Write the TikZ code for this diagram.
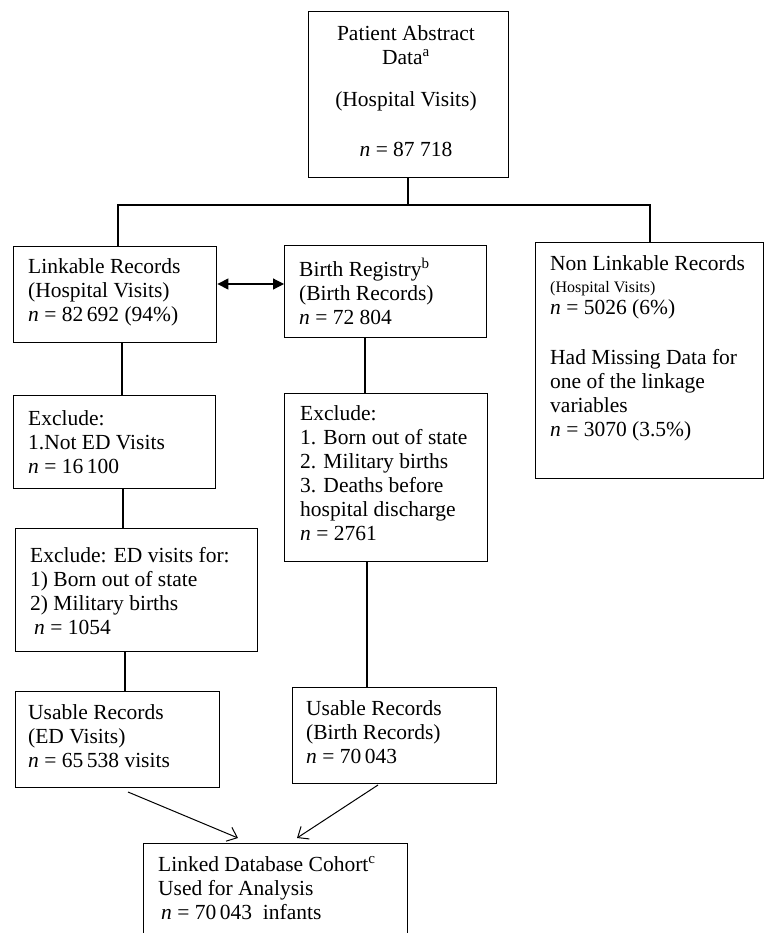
\documentclass[tikz,border=0pt]{standalone}
\usepackage{fontspec}
\setmainfont{Liberation Serif}
\usetikzlibrary{arrows.meta,calc}
\newcommand\fsN{\fontsize{21.5}{24}\selectfont}
\newcommand\fsS{\fontsize{16}{19}\selectfont}
\begin{document}
\begin{tikzpicture}[x=1pt,y=1pt,
  frame/.style={draw, line width=1.4pt, anchor=north west, inner sep=0pt},
  txt/.style={anchor=north west, inner sep=0pt, align=left, font=\fsN},
  conn/.style={line width=1.2pt},
  dbl/.style={conn, {Triangle[length=11pt,width=11pt]}-{Triangle[length=11pt,width=11pt]}},
  tip/.style={line width=1pt, -{Straight Barb[length=9pt,width=15pt]}}
]
\useasboundingbox (0,0) rectangle (770,-933);

% boxes
\node[frame, minimum width=200, minimum height=166] (top) at (308,-11) {};
\node[anchor=north, inner sep=0pt, align=center, font=\fsN] (topT) at (406,-25)
  {Patient Abstract\\ Data\textsuperscript{a}\\[18pt] (Hospital Visits)\\[26pt] \textit{n} = 87 718};

\node[frame, minimum width=203, minimum height=96] (link) at (13,-246) {};
\node[txt] (linkT) at (28,-258) {Linkable Records\\(Hospital Visits)\\\textit{n} = 82\,692 (94\%)};

\node[frame, minimum width=202, minimum height=92] (birth) at (284,-245) {};
\node[txt] (birthT) at (299,-258) {Birth Registry\textsuperscript{b}\\(Birth Records)\\\textit{n} = 72 804};

\node[frame, minimum width=228, minimum height=236] (nonlink) at (535,-242) {};
\node[txt] (nonlinkT) at (550,-255) {Non Linkable Records\\[-2pt]{\fsS (Hospital Visits)}\\[-2pt]\textit{n} = 5026 (6\%)\\[26pt]Had Missing Data for\\one of the linkage\\variables\\\textit{n} = 3070 (3.5\%)};

\node[frame, minimum width=202, minimum height=93] (ex1) at (13,-395) {};
\node[txt] (ex1T) at (28,-410) {Exclude:\\1.Not ED Visits\\\textit{n} = 16\,100};

\node[frame, minimum width=242, minimum height=123] (ex2) at (15,-528) {};
\node[txt] (ex2T) at (30,-547) {Exclude: ED visits for:\\1) Born out of state\\2) Military births\\\hspace{4pt}\textit{n} = 1054};

\node[frame, minimum width=203, minimum height=168] (exm) at (284,-393) {};
\node[txt] (exmT) at (300,-405) {Exclude:\\1. Born out of state\\2. Military births\\3. Deaths before\\hospital discharge\\\textit{n} = 2761};

\node[frame, minimum width=204, minimum height=96] (useL) at (15,-691) {};
\node[txt] (useLT) at (28,-704) {Usable Records\\(ED Visits)\\\textit{n} = 65\,538 visits};

\node[frame, minimum width=204, minimum height=96] (useR) at (292,-687) {};
\node[txt] (useRT) at (306,-700) {Usable Records\\(Birth Records)\\\textit{n} = 70\,043};

\begin{scope}
\clip (0,0) rectangle (770,-933);
\node[frame, minimum width=264, minimum height=120] (cohort) at (143,-843) {};
\end{scope}
\node[txt] (cohortT) at (158,-856) {Linked Database Cohort\textsuperscript{c}\\Used for Analysis\\\hspace{3pt}\textit{n} = 70\,043\ \ infants};

% connector coordinates
\coordinate (hl) at (118,-205);
\coordinate (hr) at (650,-205);
\coordinate (vt) at (408,0);
\coordinate (v1) at (122,0);
\coordinate (v2) at (123,0);
\coordinate (v3) at (125,0);
\coordinate (v4) at (365,0);
\coordinate (v5) at (367,0);
\coordinate (ay) at (0,-284);
\coordinate (aL1) at (128,-792);
\coordinate (aL2) at (238,-838);
\coordinate (aR1) at (378,-785);
\coordinate (aR2) at (297,-838);

% connectors
\draw[conn] (top.south -| vt) -- (vt |- hl);
\draw[conn] (link.north -| hl) -- (hl) -- (hr) -- (nonlink.north -| hr);
\draw[dbl] (link.east |- ay) -- (birth.west |- ay);
\draw[conn] (link.south -| v1) -- (ex1.north -| v1);
\draw[conn] (ex1.south -| v2) -- (ex2.north -| v2);
\draw[conn] (ex2.south -| v3) -- (useL.north -| v3);
\draw[conn] (birth.south -| v4) -- (exm.north -| v4);
\draw[conn] (exm.south -| v5) -- (useR.north -| v5);
\draw[tip] (aL1) -- (aL2);
\draw[tip] (aR1) -- (aR2);
\end{tikzpicture}
\end{document}
